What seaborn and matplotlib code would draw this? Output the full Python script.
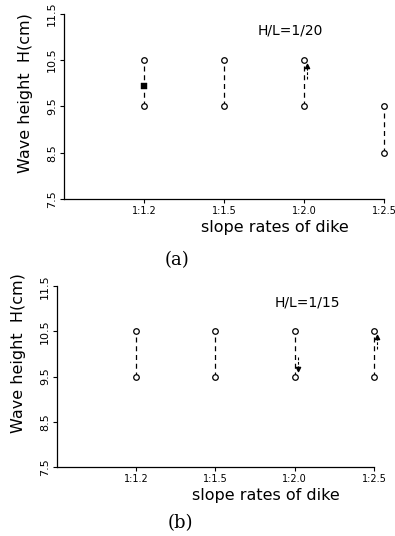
import numpy as np
import pandas as pd
import matplotlib
matplotlib.use("Agg")
import matplotlib.pyplot as plt
import seaborn as sns

sns.set_style("ticks", {"axes.edgecolor": "black", "text.color": "black",
                        "axes.labelcolor": "black", "xtick.color": "black",
                        "ytick.color": "black"})
plt.rcParams["font.family"] = ["DejaVu Sans"]

# slope categories on the x axis
slopes = ["1:1.2", "1:1.5", "1:2.0", "1:2.5"]

# (a) H/L = 1/20 : range of wave height at each slope
a_low = [9.5, 9.5, 9.5, 8.5]
a_high = [10.5, 10.5, 10.5, 9.5]
a_square_slope = "1:1.2"
a_square_val = 9.95
# small measured-value marks (slope, tail, head)
a_marks = [("1:2.0", 10.1, 10.38)]

# (b) H/L = 1/15
b_low = [9.5, 9.5, 9.5, 9.5]
b_high = [10.5, 10.5, 10.5, 10.5]
b_marks = [("1:2.0", 9.93, 9.66), ("1:2.5", 10.1, 10.37)]

yticks = [7.5, 8.5, 9.5, 10.5, 11.5]


def range_frame(low, high):
    rows = []
    for i, s in enumerate(slopes):
        rows.append({"slope": s, "pos": i, "H": low[i]})
        rows.append({"slope": s, "pos": i, "H": high[i]})
    return pd.DataFrame(rows)


def draw_panel(ax, low, high, marks, title, title_x, ylabel_y, square=None):
    df = range_frame(low, high)
    sns.lineplot(data=df, x="pos", y="H", units="slope", estimator=None, sort=False,
                 color="black", linewidth=0.9, linestyle=(0, (4, 3)), ax=ax, legend=False)
    sns.scatterplot(data=df, x="pos", y="H", marker="o", s=16, facecolor="white",
                    edgecolor="black", linewidth=0.9, ax=ax, legend=False, zorder=3)
    if square is not None:
        sdf = pd.DataFrame({"pos": [slopes.index(square[0])], "H": [square[1]]})
        sns.scatterplot(data=sdf, x="pos", y="H", marker="s", s=14, color="black",
                        edgecolor="black", ax=ax, legend=False, zorder=4)
    for s, tail, head in marks:
        p = slopes.index(s) + 0.035
        mdf = pd.DataFrame({"pos": [p, p], "H": [tail, head]})
        sns.lineplot(data=mdf, x="pos", y="H", estimator=None, sort=False, color="black",
                     linewidth=0.8, linestyle=(0, (2.5, 1.5)), ax=ax, legend=False)
        ax.scatter([p], [head], marker="^" if head > tail else "v", s=9, color="black", zorder=4)

    for art in ax.lines + ax.collections:
        art.set_clip_on(False)

    ax.set_xlim(-1, 3)
    ax.set_ylim(7.5, 11.5)
    ax.set_xticks(range(len(slopes)))
    ax.set_xticklabels(slopes, fontsize=7)
    ax.set_yticks(yticks)
    ax.set_yticklabels([f"{v:.1f}" for v in yticks], fontsize=8, rotation=90, va="center")
    ax.tick_params(axis="both", direction="out", length=3, width=0.8, pad=2)
    ax.set_xlabel("slope rates of dike", fontsize=11.5, x=0.66, labelpad=3)
    ax.set_ylabel("Wave height  H(cm)", fontsize=11.5, labelpad=10, y=ylabel_y)
    ax.text(title_x, 0.91, title, transform=ax.transAxes, fontsize=10, ha="center", va="center")
    sns.despine(ax=ax)
    for sp in ax.spines.values():
        sp.set_linewidth(0.9)


fig = plt.figure(figsize=(3.95, 5.36), dpi=100)
ax1 = fig.add_axes([0.162, 0.629, 0.810, 0.345])
ax2 = fig.add_axes([0.144, 0.129, 0.803, 0.337])

draw_panel(ax1, a_low, a_high, a_marks, "H/L=1/20", 0.706, 0.57,
           square=(a_square_slope, a_square_val))
draw_panel(ax2, b_low, b_high, b_marks, "H/L=1/15", 0.79, 0.63)

fig.text(177 / 395, 1 - 260 / 536, "(a)", fontsize=13, family="DejaVu Serif",
         ha="center", va="center")
fig.text(180 / 395, 1 - 523 / 536, "(b)", fontsize=13, family="DejaVu Serif",
         ha="center", va="center")

plt.savefig("out.png", dpi=100)
plt.close()
